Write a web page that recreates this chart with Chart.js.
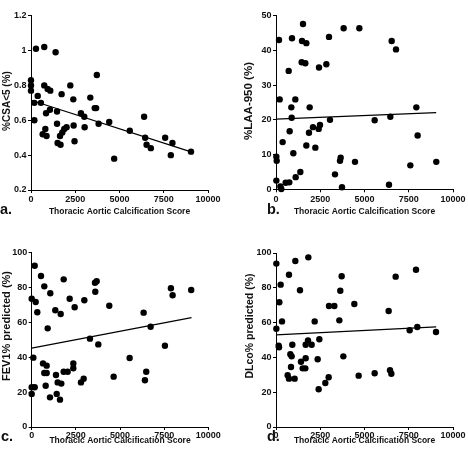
<!DOCTYPE html>
<html><head><meta charset="utf-8">
<script src="https://cdn.jsdelivr.net/npm/chart.js@4"></script>
<style>
html,body{margin:0;padding:0;background:#fff;}
#wrap{position:relative;width:468px;height:454px;overflow:hidden;background:#fff;}
.pane{position:absolute;width:234px;height:227px;}
.lbl{position:absolute;font-family:'Liberation Sans',Arial,sans-serif;font-size:14.5px;font-weight:bold;color:#111;line-height:1;}
.yt{position:absolute;font-family:'Liberation Sans',Arial,sans-serif;font-weight:bold;color:#111;line-height:1.2;white-space:nowrap;transform:translate(-50%,-50%) rotate(-90deg);}
</style></head><body>
<div id="wrap">
<div class="pane" style="left:0;top:0"><canvas id="ca" width="234" height="227"></canvas></div>
<div class="pane" style="left:234px;top:0"><canvas id="cb" width="234" height="227"></canvas></div>
<div class="pane" style="left:0;top:227px"><canvas id="cc" width="234" height="227"></canvas></div>
<div class="pane" style="left:234px;top:227px"><canvas id="cd" width="234" height="227"></canvas></div>
<div class="lbl" style="left:0px;top:202px">a.</div>
<div class="lbl" style="left:267px;top:202px">b.</div>
<div class="lbl" style="left:1px;top:429px">c.</div>
<div class="lbl" style="left:267px;top:429px">d.</div>
<div class="yt" id="ta" style="left:7.3px;top:101px;font-size:10px"></div>
<div class="yt" id="tb" style="left:249px;top:101px;font-size:11.5px"></div>
<div class="yt" id="tc" style="left:6.6px;top:326px;font-size:11px"></div>
<div class="yt" id="td" style="left:249px;top:326px;font-size:10.5px"></div>
</div>
<script>
const xTicks = [0, 2500, 5000, 7500, 10000];
const xTitle = 'Thoracic Aortic Calcification Score';
const yTitles = ['%CSA<5 (%)', '%LAA-950 (%)', 'FEV1% predicted (%)', 'DLco% predicted (%)'];

const xA = [0,0,0,190,190,280,380,560,660,750,750,810,850,880,940,1070,1090,1390,1470,1470,1500,1640,1670,1730,1770,1880,2010,2220,2390,2410,2460,2820,3010,3030,3350,3600,3680,3720,3820,4420,4700,5580,6390,6450,6530,6770,7580,7900,7990,9040];
const yA = [0.83,0.80,0.77,0.70,0.60,1.01,0.74,0.70,0.52,1.02,0.80,0.55,0.64,0.51,0.78,0.66,0.77,0.99,0.65,0.58,0.47,0.51,0.46,0.75,0.53,0.55,0.56,0.80,0.72,0.57,0.48,0.64,0.62,0.56,0.73,0.67,0.67,0.86,0.58,0.59,0.38,0.54,0.62,0.50,0.46,0.44,0.50,0.40,0.47,0.42];
const fitA = [[0,0.715],[9000,0.42]];

const xB = [1525,169,904,1469,1714,2994,3823,4708,1450,1657,716,2429,2844,207,1092,866,1902,885,3051,772,1864,2090,2411,2486,376,1714,2222,20,40,979,3653,3616,4463,3333,1375,1112,546,751,20,245,300,3729,6535,6780,7928,5574,6460,8003,7589,9056,6384];
const yB = [47.6,43.0,43.5,42.7,42.1,43.9,46.4,46.4,36.6,36.3,34.1,35.1,36.0,25.9,25.9,23.6,23.6,20.6,20.0,16.7,16.3,17.9,17.4,18.5,13.6,12.6,12.0,9.4,8.2,10.4,9.1,8.2,7.9,4.3,5.0,3.5,1.9,2.0,2.5,0.8,0.1,0.6,42.7,40.3,23.6,19.9,20.9,15.5,6.9,7.9,1.3];
const fitB = [[0,20.2],[9050,22.1]];

const xC = [170,526,713,1053,1811,0,226,317,1336,1641,2150,2433,2980,3582,3679,3601,4393,905,3299,3771,92,640,848,713,848,2356,2356,1811,2037,1375,4640,2790,2943,1471,1677,0,170,0,792,1036,1415,1601,7883,7980,9032,6338,6734,7544,5546,6486,6412];
const yC = [92.5,86.6,80.7,76.7,84.7,73.6,71.7,65.8,67.0,64.8,73.6,68.7,72.7,82.8,83.6,77.6,69.6,56.6,50.7,47.4,39.8,36.5,35.2,31.0,31.0,36.5,33.7,31.7,31.7,29.8,28.9,25.6,27.7,25.6,24.9,22.8,22.8,19.0,23.7,17.0,19.0,15.7,79.6,75.6,78.6,65.6,57.5,46.6,39.6,31.7,26.8];
const fitC = [[0,45.3],[9050,62.7]];

const xD = [20,1092,1827,734,264,1356,3710,3633,188,2994,3296,4426,339,2185,3578,20,150,170,922,1808,1676,2015,2448,810,885,1676,2354,3804,1412,847,1507,1657,659,734,1054,2976,2787,2410,4670,7910,6761,6365,7552,7983,9040,5574,6441,6516];
const yD = [93.9,95.4,97.5,87.5,81.8,78.6,86.6,78.3,71.7,69.5,69.5,70.7,60.7,60.7,61.3,56.5,46.7,45.8,47.3,49.8,47.3,47.3,50.4,41.8,40.6,39.5,38.9,40.6,37.5,34.5,33.7,33.7,29.7,27.8,27.8,28.6,25.3,21.7,29.5,90.4,86.4,66.7,55.6,57.5,54.6,30.9,32.6,30.6];
const fitD = [[0,53.0],[9050,57.5]];

const yTicksA = [0.2, 0.4, 0.6, 0.8, 1, 1.2];
const yTicksB = [0, 10, 20, 30, 40, 50];
const yTicksCD = [0, 20, 40, 60, 80, 100];

const FONT = "'Liberation Sans', Arial, sans-serif";

['ta','tb','tc','td'].forEach((id, i) => { document.getElementById(id).textContent = yTitles[i]; });

function makeChart(id, xs, ys, fit, c) {
  const pts = xs.map((x, i) => ({x: x, y: ys[i]}));
  new Chart(document.getElementById(id), {
    type: 'scatter',
    data: {datasets: [
      {data: pts, pointRadius: 3.2, pointHoverRadius: 3.2, backgroundColor: '#000', borderWidth: 0, clip: false},
      {data: fit.map(p => ({x: p[0], y: p[1]})), showLine: true, borderColor: '#000', borderWidth: 1.2, pointRadius: 0, fill: false, clip: false}
    ]},
    options: {
      responsive: false, animation: false, events: [],
      layout: {padding: {left: 0, top: c.top, right: c.right, bottom: 0}},
      plugins: {legend: {display: false}, tooltip: {enabled: false}},
      scales: {
        x: {
          type: 'linear', min: 0, max: 10000,
          afterFit: s => { s.height = c.xh; },
          afterBuildTicks: s => { s.ticks = xTicks.map(v => ({value: v})); },
          ticks: {font: {family: FONT, size: 9, weight: 'bold'}, color: '#111', padding: c.xpad, maxRotation: 0, autoSkip: false, callback: v => String(v)},
          grid: {display: true, drawOnChartArea: false, drawTicks: true, tickLength: 3, color: '#000', lineWidth: 1},
          border: {display: true, color: '#000', width: 1},
          title: {display: true, text: xTitle, font: {family: FONT, size: 8.5, weight: 'bold'}, color: '#111', padding: {top: 0, bottom: c.xtb}}
        },
        y: {
          type: 'linear', min: c.ymin, max: c.ymax,
          afterFit: s => { s.width = c.yw; },
          afterBuildTicks: s => { s.ticks = c.yticks.map(v => ({value: v})); },
          ticks: {font: {family: FONT, size: 9, weight: 'bold'}, color: '#111', padding: 1.5, autoSkip: false, callback: v => String(v)},
          grid: {display: true, drawOnChartArea: false, drawTicks: true, tickLength: 3, color: '#000', lineWidth: 1},
          border: {display: true, color: '#000', width: 1},
          title: {display: false}
        }
      }
    }
  });
}

makeChart('ca', xA, yA, fitA, {top: 15.7, right: 26, xh: 37, yw: 31, ymin: 0.2, ymax: 1.2, yticks: yTicksA, xtb: 9.9, xpad: 1.5});
makeChart('cb', xB, yB, fitB, {top: 15.7, right: 15, xh: 37.7, yw: 42, ymin: 0, ymax: 50, yticks: yTicksB, xtb: 9.9, xpad: 1.5});
makeChart('cc', xC, yC, fitC, {top: 25.7, right: 25.7, xh: 27, yw: 31.7, ymin: 0, ymax: 100, yticks: yTicksCD, xtb: 8.4, xpad: 0.5});
makeChart('cd', xD, yD, fitD, {top: 26, right: 15, xh: 27, yw: 42, ymin: 0, ymax: 100, yticks: yTicksCD, xtb: 8.4, xpad: 0.5});
</script>
</body></html>
